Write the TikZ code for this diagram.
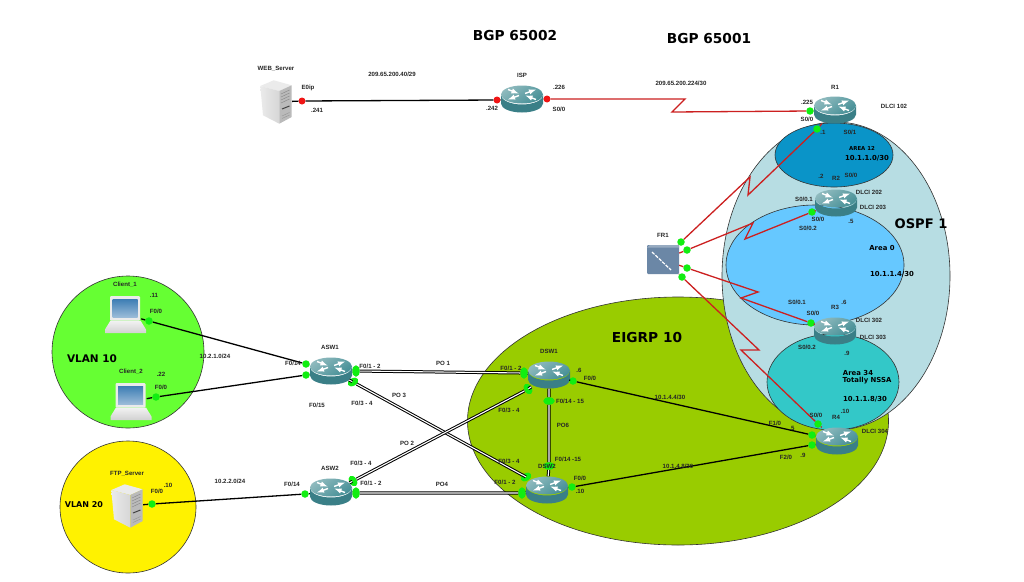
\documentclass[tikz,border=0pt]{standalone}
\usepackage{fontspec}
\setmainfont{Liberation Sans}
\newfontfamily\headfont{DejaVu Sans}
\usetikzlibrary{shapes.geometric, arrows, positioning}

\definecolor{vlanten}{HTML}{66FF33}
\definecolor{eigrpgreen}{HTML}{99CC00}
\definecolor{ospfblue}{HTML}{B7DDE3}
\definecolor{areatwelve}{HTML}{0A94C8}
\definecolor{areazero}{HTML}{66C8FF}
\definecolor{areathirtyfour}{HTML}{33C8C8}
\definecolor{routerside}{HTML}{3A7F87}
\definecolor{routertop}{HTML}{458F96}
\definecolor{routerlight}{HTML}{8FBABE}
\definecolor{portgreen}{HTML}{11EE11}
\definecolor{portred}{HTML}{F01515}
\definecolor{linkred}{HTML}{CC2020}
\definecolor{cloudblue}{HTML}{6B87A6}
\definecolor{screentop}{HTML}{3F7FB5}
\definecolor{screenlow}{HTML}{9ABBD8}

% #1 name, #2 x, #3 y
\newcommand{\routericon}[3]{
    \node (#1) [router] at (#2,#3) {};
    \begin{scope}[shift={(#1)}]
        \fill [routerside] (-21,-4) arc [start angle=180, end angle=360, x radius=21pt, y radius=9.5pt] -- (21,-4) -- (21,4.5)
            arc [start angle=0, end angle=-180, x radius=21pt, y radius=9pt] -- cycle;
        \shade [left color=routerlight, right color=routertop, shading angle=35] (0,-4.5) ellipse [x radius=21pt, y radius=9pt];
        \draw [white, line width=1.4pt, -latex] (-14,-9.5) -- (-3.5,-5.5);
        \draw [white, line width=1.4pt, -latex] (-3,-3.5) -- (-14,0.5);
        \draw [white, line width=1.4pt, -latex] (3,-5.5) -- (14,-9.5);
        \draw [white, line width=1.4pt, -latex] (14,0.5) -- (3.5,-3.5);
    \end{scope}
}
\newcommand{\servericon}[3]{
    \node (#1) [server] at (#2,#3) {};
    \begin{scope}[shift={(#1)}]
        \fill [black!8] (-15.7,-16) -- (-2.3,-21.7) -- (15.7,-16.7) -- (3.3,-11) -- cycle;
        \shade [left color=black!8, right color=black!16] (-15.7,-16) -- (3.3,-11) -- (3.3,21.7) -- (-13,13.3) -- cycle;
        \fill [black!27] (3.3,-11) -- (15.7,-16.7) -- (15.7,15) -- (3.3,21.7) -- cycle;
        \draw [black!45, line width=0.5pt] (5,-8) -- (13.5,-12) (5,-5) -- (13.5,-9) (5,-2) -- (13.5,-6) (5,1) -- (13.5,-3);
        \draw [black!75, line width=1pt] (6,7) -- (13.5,4);
        \draw [black!40, line width=0.5pt] (6,14) -- (13.5,10.5) (6,16.5) -- (13.5,13);
    \end{scope}
}
\newcommand{\laptopicon}[3]{
    \node (#1) [laptop] at (#2,#3) {};
    \begin{scope}[shift={(#1)}]
        \fill [black!8, rounded corners=1pt] (-15.5,-18.5) rectangle (14.5,6);
        \shade [top color=screentop, bottom color=screenlow] (-13,-15) rectangle (12,2.5);
        \shade [top color=black!5, bottom color=black!18] (-15,6) -- (15,6) -- (20.5,15) -- (20.5,18.5) -- (-20.5,18.5) -- (-20.5,15) -- cycle;
    \end{scope}
}

\begin{document}
\begin{tikzpicture}[x=1pt, y=-1pt]
    \tikzstyle{router} = [rectangle, inner sep=0pt, minimum width=42pt, minimum height=27pt]
    \tikzstyle{server} = [rectangle, inner sep=0pt, minimum width=32pt, minimum height=44pt]
    \tikzstyle{laptop} = [rectangle, inner sep=0pt, minimum width=31pt, minimum height=37pt]
    \tikzstyle{area} = [ellipse, draw=black!80, line width=0.6pt, inner sep=0pt]
    \tikzstyle{gport} = [circle, fill=portgreen, inner sep=0pt, minimum size=7.5pt]
    \tikzstyle{rport} = [circle, fill=portred, inner sep=0pt, minimum size=7pt]
    \tikzstyle{gpair} = [ellipse, fill=portgreen, inner sep=0pt, minimum width=7.5pt, minimum height=11.5pt]
    \tikzstyle{wire} = [draw=black, line width=1.3pt]
    \tikzstyle{redwire} = [draw=linkred, line width=1.3pt]
    \tikzstyle{bundle} = [draw=black, line width=1pt, double=white, double distance=1.1pt]
    \tikzstyle{lbl} = [inner sep=0pt, text=black!85, font=\bfseries\fontsize{6.1}{7}\selectfont]
    \tikzstyle{areatxt} = [inner sep=0pt, font=\headfont\bfseries\fontsize{6.9}{8}\selectfont]
    \tikzstyle{headtxt} = [inner sep=0pt, font=\headfont\bfseries\fontsize{13.7}{15}\selectfont]

    \path [use as bounding box, fill=white] (0,0) rectangle (1024,581);

    % areas
    \node (eigrp) [area, fill=eigrpgreen, minimum width=421pt, minimum height=248pt] at (678,421) {};
    \node (ospf) [area, fill=ospfblue, minimum width=228pt, minimum height=308pt] at (836,276) {};
    \node (area12) [area, fill=areatwelve, minimum width=118pt, minimum height=64pt] at (834,155) {};
    \node (area0) [area, fill=areazero, minimum width=178pt, minimum height=120pt] at (815,265) {};
    \node (area34) [area, fill=areathirtyfour, minimum width=132pt, minimum height=96pt] at (833,382) {};
    \node (vlan10) [area, fill=vlanten, minimum width=152pt, minimum height=152pt] at (128,352) {};
    \node (vlan20) [area, fill=yellow, minimum width=136pt, minimum height=132pt] at (128,507) {};

    % devices
    \servericon{web}{276}{102}
    \servericon{ftp}{127}{506}
    \laptopicon{client1}{125.5}{314.5}
    \laptopicon{client2}{131}{401.5}
    \routericon{isp}{522}{99}
    \routericon{rone}{835}{110}
    \routericon{rtwo}{836}{203}
    \routericon{rthree}{835}{331}
    \routericon{rfour}{837}{441}
    \routericon{asw1}{331}{371}
    \routericon{asw2}{331}{492}
    \routericon{dsw1}{549}{375}
    \routericon{dsw2}{547}{490}

    \node (fr1) [rectangle, fill=cloudblue, rounded corners=1pt, inner sep=0pt, minimum width=32pt, minimum height=29pt] at (663,259.5) {};
    \fill [cloudblue!70!white] (650,245) -- (679,245) -- (679,247.5) -- (647,247.5) -- cycle;
    \draw [white, line width=1.2pt, dash pattern=on 3.5pt off 1.2pt] (652,252) -- (671,270);

    % ports
    \node (webp) [rport] at (302,101) {};
    \node (ispw) [rport] at (497,100) {};
    \node (ispe) [rport] at (547,99) {};
    \node (ronew) [gport] at (810,111) {};
    \node (rones) [gport] at (817,129) {};
    \node (rtwop) [gport] at (812,212) {};
    \node (rthreep) [gport] at (811,323) {};
    \node (rfourn) [gport] at (818,424) {};
    \node (rfoura) [gport] at (812,435) {};
    \node (rfourb) [gport] at (812,445) {};
    \node (fra) [gport] at (681,242) {};
    \node (frb) [gport] at (687,250) {};
    \node (frc) [gport] at (687,268) {};
    \node (frd) [gport] at (682,277) {};
    \node (clientap) [gport] at (149,321) {};
    \node (clientbp) [gport] at (156,397) {};
    \node (ftpp) [gport] at (152,504) {};
    \node (asw1a) [gport] at (306,364) {};
    \node (asw1b) [gport] at (306,375) {};
    \node (asw1c) [gpair] at (356,371) {};
    \node (asw1d) [gpair, rotate=-60] at (353,382) {};
    \node (asw2a) [gport] at (305,494) {};
    \node (asw2c) [gpair, rotate=30] at (353,481) {};
    \node (asw2d) [gpair] at (356,493) {};
    \node (dsw1a) [gpair] at (524,373) {};
    \node (dsw1b) [gpair, rotate=30] at (528,389) {};
    \node (dsw1c) [gpair, rotate=90] at (549,401) {};
    \node (dsw1d) [gport] at (573,381) {};
    \node (dsw2a) [gpair, rotate=-60] at (526,477) {};
    \node (dsw2b) [gpair] at (522,493) {};
    \node (dsw2c) [gpair, rotate=90] at (549,466) {};
    \node (dsw2d) [gport] at (572,487) {};

    % serial kinks
    \coordinate (kinka) at (685,99);
    \coordinate (kinkb) at (672,112);
    \coordinate (kinkc) at (750,177);
    \coordinate (kinkd) at (748,195);
    \coordinate (kinke) at (753,223);
    \coordinate (kinkf) at (745,239);
    \coordinate (kinkg) at (758,292);
    \coordinate (kinkh) at (741,298);
    \coordinate (kinki) at (759,350);
    \coordinate (kinkj) at (741,350);

    % links
    \draw [wire] (web) -- (webp) -- (ispw) -- (isp);
    \draw [redwire] (isp) -- (ispe) -- (kinka) -- (kinkb) -- (ronew) -- (rone);
    \draw [redwire] (fr1) -- (fra) -- (kinkc) -- (kinkd) -- (rones) -- (rone);
    \draw [redwire] (fr1) -- (frb) -- (kinke) -- (kinkf) -- (rtwop) -- (rtwo);
    \draw [redwire] (fr1) -- (frc) -- (kinkg) -- (kinkh) -- (rthreep) -- (rthree);
    \draw [redwire] (fr1) -- (frd) -- (kinki) -- (kinkj) -- (rfourn) -- (rfour);
    \draw [wire] (client1) -- (clientap) -- (asw1a) -- (asw1);
    \draw [wire] (client2) -- (clientbp) -- (asw1b) -- (asw1);
    \draw [wire] (ftp) -- (ftpp) -- (asw2a) -- (asw2);
    \draw [wire] (dsw1) -- (dsw1d) -- (rfoura) -- (rfour);
    \draw [wire] (dsw2) -- (dsw2d) -- (rfourb) -- (rfour);
    \draw [bundle] (asw1) -- (asw1c) -- (dsw1a) -- (dsw1);
    \draw [bundle] (asw1) -- (asw1d) -- (dsw2a) -- (dsw2);
    \draw [bundle] (asw2) -- (asw2c) -- (dsw1b) -- (dsw1);
    \draw [bundle] (asw2) -- (asw2d) -- (dsw2b) -- (dsw2);
    \draw [bundle] (dsw1) -- (dsw1c) -- (dsw2c) -- (dsw2);

    % big titles
    \node (bgpa) [headtxt] at (515,36) {BGP 65002};
    \node (bgpb) [headtxt] at (709,39) {BGP 65001};
    \node (ospftxt) [headtxt, font=\headfont\bfseries\fontsize{13.1}{15}\selectfont] at (921,224) {OSPF 1};
    \node (eigrptxt) [headtxt] at (647,338) {EIGRP 10};
    \node (vlana) [headtxt, font=\headfont\bfseries\fontsize{10.5}{12}\selectfont] at (92,359) {VLAN 10};
    \node (vlanb) [headtxt, font=\headfont\bfseries\fontsize{8}{10}\selectfont] at (84,505) {VLAN 20};

    % area texts
    \node (txtarea12) [areatxt, font=\headfont\bfseries\fontsize{5.4}{7}\selectfont] at (862,148) {AREA 12};
    \node (txtnet12) [areatxt] at (867,158) {10.1.1.0/30};
    \node (txtarea0) [areatxt] at (882,248) {Area 0};
    \node (txtnet0) [areatxt] at (892,274) {10.1.1.4/30};
    \node (txtarea34) [areatxt] at (858,373) {Area 34};
    \node (txtnssa) [areatxt] at (867,381) {Totally NSSA};
    \node (txtnet34) [areatxt] at (865,399) {10.1.1.8/30};

    % device names and nets
    \node (lweb) [lbl] at (276,69) {WEB\_Server};
    \node (lnetweb) [lbl] at (392,74) {209.65.200.40/29};
    \node (le0) [lbl] at (308,88) {E0ip};
    \node (lwebip) [lbl] at (317,110) {.241};
    \node (lisp) [lbl] at (522,75) {ISP};
    \node (lispe) [lbl] at (559,87) {.226};
    \node (lispw) [lbl] at (492,108) {.242};
    \node (lisps) [lbl] at (559,109) {S0/0};
    \node (lnetisp) [lbl] at (681,83) {209.65.200.224/30};
    \node (lrone) [lbl] at (835,87) {R1};
    \node (lrone225) [lbl] at (807,102) {.225};
    \node (ldlci102) [lbl] at (894,106) {DLCI 102};
    \node (lrones00) [lbl] at (807,119) {S0/0};
    \node (lroneip) [lbl] at (823,132) {.1};
    \node (lrones01) [lbl] at (850,132) {S0/1};
    \node (lrtwoip) [lbl] at (821,176) {.2};
    \node (lrtwo) [lbl] at (836,178) {R2};
    \node (lrtwos00) [lbl] at (851,175) {S0/0};
    \node (ldlci202) [lbl] at (869,192) {DLCI 202};
    \node (ldlci203) [lbl] at (873,207) {DLCI 203};
    \node (lrtwosub1) [lbl] at (804,199) {S0/0.1};
    \node (lrtwos) [lbl] at (818,219) {S0/0};
    \node (lrtwosub2) [lbl] at (808,228) {S0/0.2};
    \node (lrtwo5) [lbl] at (851,221) {.5};
    \node (lrthreesub1) [lbl] at (797,302) {S0/0.1};
    \node (lrthree) [lbl] at (835,307) {R3};
    \node (lrthree6) [lbl] at (844,302) {.6};
    \node (lrthrees) [lbl] at (813,313) {S0/0};
    \node (ldlci302) [lbl] at (869,320) {DLCI 302};
    \node (ldlci303) [lbl] at (873,337) {DLCI 303};
    \node (lrthreesub2) [lbl] at (807,347) {S0/0.2};
    \node (lrthree9) [lbl] at (847,353) {.9};
    \node (lrfours) [lbl] at (816,415) {S0/0};
    \node (lrfour) [lbl] at (836,417) {R4};
    \node (lrfour10) [lbl] at (845,411) {.10};
    \node (ldlci304) [lbl] at (875,431) {DLCI 304};
    \node (lf10) [lbl] at (775,423) {F1/0};
    \node (lf10ip) [lbl] at (792,428) {.5};
    \node (lf20) [lbl] at (786,457) {F2/0};
    \node (lf20ip) [lbl] at (803,455) {.9};
    \node (lneta) [lbl] at (670,397) {10.1.4.4/30};
    \node (lnetb) [lbl] at (678,466) {10.1.4.8/30};
    \node (lfr1) [lbl] at (663,235) {FR1};

    \node (ldsw1) [lbl] at (549,351) {DSW1};
    \node (ldsw1a) [lbl] at (511,368) {F0/1 - 2};
    \node (ldsw1ip) [lbl] at (579,370) {.6};
    \node (ldsw1f) [lbl] at (590,378) {F0/0};
    \node (ldsw1s) [lbl] at (570,401) {F0/14 - 15};
    \node (ldsw1b) [lbl] at (509,410) {F0/3 - 4};
    \node (lpo6) [lbl] at (563,425) {PO6};
    \node (ldsw2s) [lbl] at (568,459) {F0/14 -15};
    \node (ldsw2b) [lbl] at (509,461) {F0/3 - 4};
    \node (ldsw2) [lbl] at (547,466) {DSW2};
    \node (ldsw2f) [lbl] at (580,478) {F0/0};
    \node (ldsw2a) [lbl] at (505,482) {F0/1 - 2};
    \node (ldsw2ip) [lbl] at (580,491) {.10};

    \node (lasw1) [lbl] at (330,347) {ASW1};
    \node (lasw1w) [lbl] at (293,363) {F0/14};
    \node (lasw1a) [lbl] at (370,366) {F0/1 - 2};
    \node (lpo1) [lbl] at (443,363) {PO 1};
    \node (lasw1x) [lbl] at (317,405) {F0/15};
    \node (lpo3) [lbl] at (399,395) {PO 3};
    \node (lasw1b) [lbl] at (362,403) {F0/3 - 4};
    \node (lpo2) [lbl] at (407,443) {PO 2};
    \node (lasw2b) [lbl] at (361,463) {F0/3 - 4};
    \node (lasw2) [lbl] at (330,468) {ASW2};
    \node (lasw2w) [lbl] at (292,484) {F0/14};
    \node (lasw2a) [lbl] at (371,483) {F0/1 - 2};
    \node (lpo4) [lbl] at (442,484) {PO4};

    \node (lclienta) [lbl] at (125,285) {Client\_1};
    \node (lclientaip) [lbl] at (154,295) {.11};
    \node (lclientaf) [lbl] at (156,311) {F0/0};
    \node (lneth) [lbl] at (215,356) {10.2.1.0/24};
    \node (lclientb) [lbl] at (131,372) {Client\_2};
    \node (lclientbip) [lbl] at (161,374) {.22};
    \node (lclientbf) [lbl] at (161,387) {F0/0};
    \node (lftp) [lbl] at (127,474) {FTP\_Server};
    \node (lftpip) [lbl] at (168,485) {.10};
    \node (lftpf) [lbl] at (157,491) {F0/0};
    \node (lnetftp) [lbl] at (230,481) {10.2.2.0/24};
\end{tikzpicture}
\end{document}
